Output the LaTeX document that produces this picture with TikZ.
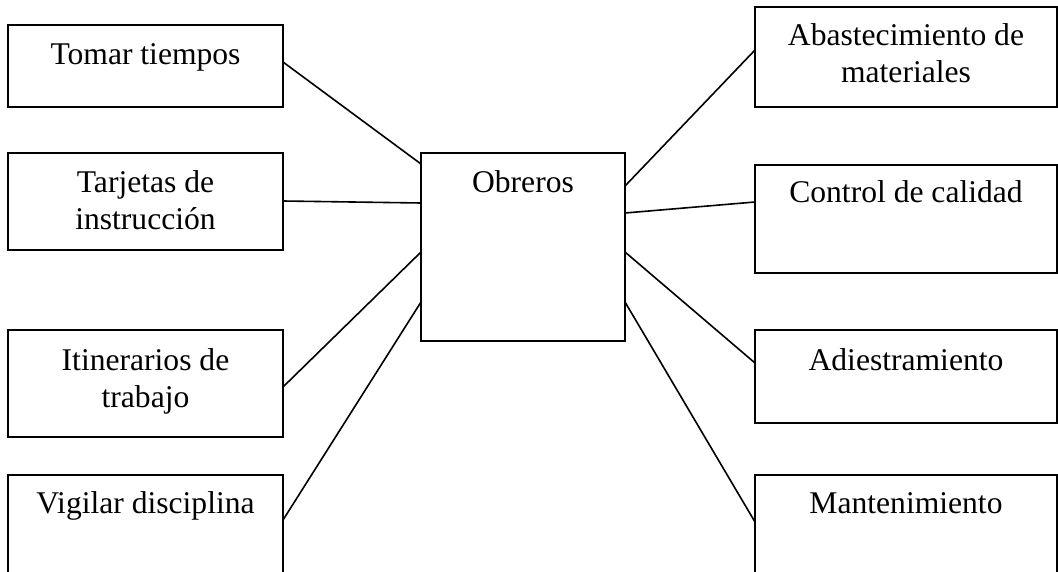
\documentclass[tikz,border=0pt]{standalone}
\usepackage{fontspec}
\setmainfont{Liberation Serif}
\begin{document}
\begin{tikzpicture}[x=1pt,y=-1pt,
  box/.style={draw, line width=2pt, rectangle, inner sep=0pt, outer sep=0pt},
  leftbox/.style={box, minimum width=275pt},
  rightbox/.style={box, minimum width=302pt},
  txt/.style={anchor=base, inner sep=0pt, align=center,
    font=\fontsize{31.6}{37}\selectfont},
  link/.style={line width=1.6pt}]
\useasboundingbox (0,0) rectangle (1058,572);
\clip (0,0) rectangle (1058,572);

% left column
\node[leftbox, minimum height=82pt]  (L1) at (145.5,66) {};
\node[leftbox, minimum height=97pt]  (L2) at (145.5,201.5) {};
\node[leftbox, minimum height=107pt] (L3) at (145.5,383.5) {};
\node[leftbox, minimum height=125pt] (L4) at (145.5,537.5) {};

% centre
\node[box, minimum width=204pt, minimum height=188pt] (C) at (523,247) {};

% right column
\node[rightbox, minimum height=100pt] (R1) at (906,57) {};
\node[rightbox, minimum height=108pt] (R2) at (906,219) {};
\node[rightbox, minimum height=93pt]  (R3) at (906,376.5) {};
\node[rightbox, minimum height=125pt] (R4) at (906,537.5) {};

% labels (the base of a two-line label is its second line)
\node[txt] (tL1) at ([yshift=-40pt]L1.north) {Tomar tiempos};
\node[txt] (tL2) at ([yshift=-77pt]L2.north) {Tarjetas de\\instrucción};
\node[txt] (tL3) at ([yshift=-77pt]L3.north) {Itinerarios de\\trabajo};
\node[txt] (tL4) at ([yshift=-38pt]L4.north) {Vigilar disciplina};
\node[txt] (tC)  at ([yshift=-40pt]C.north)  {Obreros};
\node[txt] (tR1) at ([yshift=-76pt]R1.north) {Abastecimiento de\\materiales};
\node[txt] (tR2) at ([yshift=-38pt]R2.north) {Control de calidad};
\node[txt] (tR3) at ([yshift=-40pt]R3.north) {Adiestramiento};
\node[txt] (tR4) at ([yshift=-38pt]R4.north) {Mantenimiento};

% connectors
\draw[link] ([yshift=-37pt]L1.north east) -- ([yshift=-11pt]C.north west);
\draw[link] ([yshift=-48pt]L2.north east) -- ([yshift=-50pt]C.north west);
\draw[link] ([yshift=-57pt]L3.north east) -- ([yshift=-99pt]C.north west);
\draw[link] ([yshift=-45pt]L4.north east) -- ([yshift=-149pt]C.north west);
\draw[link] ([yshift=-43pt]R1.north west) -- ([yshift=-33pt]C.north east);
\draw[link] ([yshift=-37pt]R2.north west) -- ([yshift=-60pt]C.north east);
\draw[link] ([yshift=-33pt]R3.north west) -- ([yshift=-99pt]C.north east);
\draw[link] ([yshift=-47pt]R4.north west) -- ([yshift=-149pt]C.north east);
\end{tikzpicture}
\end{document}
